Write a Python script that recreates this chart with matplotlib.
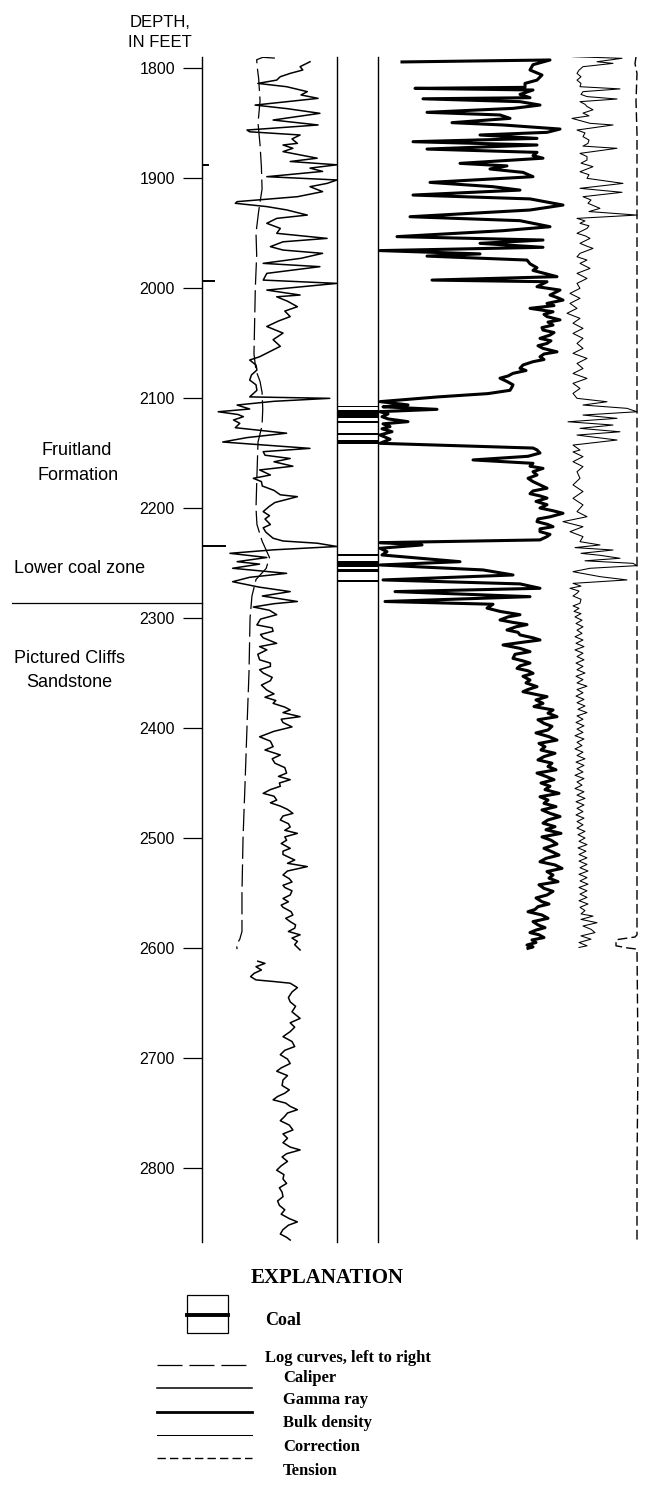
"""Well log: caliper, gamma ray, bulk density, correction, tension and coal beds,
Fruitland Formation / Pictured Cliffs Sandstone. Writes out.png.
"""
import matplotlib
matplotlib.use("Agg")
import matplotlib.pyplot as plt
from matplotlib.lines import Line2D
from matplotlib.patches import Rectangle
from matplotlib.transforms import blended_transform_factory

plt.rcParams["lines.scale_dashes"] = False

SANS = ["Liberation Sans", "DejaVu Sans"]
SERIF = ["Liberation Serif", "DejaVu Serif"]

# ---- data -------------------------------------------------------------
DEPTH_TICKS = [1800, 1900, 2000, 2100, 2200, 2300, 2400, 2500, 2600, 2700, 2800]
CONTACT_DEPTH = 2286  # Fruitland / Pictured Cliffs contact

# gamma ray, API (track 0-150), upper run
GR_DEPTH_1 = [1794.3, 1798.8, 1801.8, 1804.9, 1807.9, 1811.0, 1814.0, 1817.0, 1821.5, 1824.5,
              1827.6, 1833.7, 1837.0, 1841.2, 1847.3, 1851.8, 1856.4, 1858.0, 1860.9, 1864.5,
              1868.5, 1870.0, 1873.0, 1876.0, 1879.0, 1882.0, 1885.0, 1888.0, 1891.0, 1894.0,
              1898.8, 1901.8, 1904.9, 1907.9, 1912.4, 1917.0, 1921.5, 1923.0, 1926.0, 1929.0,
              1933.7, 1936.7, 1941.2, 1945.8, 1950.3, 1954.9, 1958.0, 1962.4, 1965.5, 1968.5,
              1973.0, 1977.6, 1980.6, 1986.7, 1992.8, 1995.8, 2001.9, 2006.4, 2008.0, 2012.0,
              2017.0, 2021.0, 2026.0, 2030.0, 2035.0, 2041.0, 2047.0, 2053.0, 2058.0, 2062.5,
              2065.5, 2070.0, 2074.6, 2079.0, 2083.7, 2088.0, 2093.0, 2099.0, 2100.3, 2103.0,
              2106.4, 2110.0, 2112.5, 2115.0, 2117.0, 2120.0, 2123.0, 2127.0, 2132.0, 2136.0,
              2140.0, 2145.8, 2148.8, 2152.0, 2155.0, 2158.0, 2162.0, 2165.4, 2170.0, 2173.0,
              2176.0, 2180.0, 2184.0, 2188.0, 2189.7, 2195.0, 2199.0, 2203.3, 2207.0, 2210.0,
              2215.0, 2218.0, 2222.0, 2227.5, 2230.0, 2232.0, 2235.0, 2238.0, 2241.2, 2245.0,
              2248.8, 2251.0, 2254.8, 2259.4, 2263.0, 2267.0, 2272.0, 2276.0, 2280.0, 2285.0,
              2287.0, 2290.0, 2293.0, 2297.0, 2301.0, 2306.3, 2309.0, 2312.0, 2315.0, 2318.0,
              2323.0, 2326.0, 2329.0, 2333.0, 2338.0, 2341.0, 2344.0, 2347.0, 2350.0, 2354.0,
              2357.0, 2361.0, 2365.5, 2369.0, 2372.0, 2375.0, 2377.6, 2381.0, 2383.6, 2386.0,
              2389.7, 2392.0, 2395.0, 2399.0, 2403.0, 2408.0, 2412.0, 2417.0, 2420.0, 2424.5,
              2428.0, 2432.0, 2436.0, 2441.0, 2444.0, 2447.0, 2450.0, 2453.0, 2456.0, 2459.4,
              2462.0, 2465.5, 2468.0, 2471.0, 2474.0, 2477.6, 2480.0, 2483.6, 2487.0, 2490.0,
              2493.0, 2495.8, 2499.0, 2502.0, 2505.0, 2509.4, 2512.0, 2515.0, 2520.0, 2523.0,
              2526.0, 2530.0, 2533.6, 2537.0, 2540.0, 2543.0, 2545.0, 2548.0, 2551.8, 2555.0,
              2558.0, 2561.0, 2563.0, 2567.0, 2570.0, 2573.0, 2576.0, 2579.0, 2582.0, 2585.0,
              2588.0, 2591.0, 2594.0, 2597.0, 2601.8]
GR_API_1 = [120, 109, 112, 98, 87, 83, 62, 94, 117, 110,
            129, 59, 95, 131, 79, 129, 50, 53, 109, 100,
            106, 90, 101, 90, 109, 128, 98, 150, 120, 134,
            72, 150, 139, 120, 134, 106, 39, 37, 72, 94,
            117, 83, 72, 87, 83, 139, 90, 76, 90, 134,
            110, 68, 131, 72, 68, 150, 72, 109, 83, 95,
            106, 92, 98, 85, 72, 90, 79, 87, 75, 64,
            53, 60, 61, 55, 53, 60, 61, 53, 142, 80,
            39, 53, 18, 40, 46, 35, 42, 37, 94, 50,
            23, 120, 68, 70, 98, 80, 101, 64, 76, 57,
            66, 67, 80, 87, 106, 81, 74, 68, 75, 70,
            76, 68, 71, 79, 90, 128, 150, 80, 31, 72,
            39, 64, 34, 94, 53, 34, 64, 98, 67, 106,
            80, 57, 75, 83, 65, 61, 78, 79, 65, 68,
            83, 64, 72, 62, 64, 76, 76, 64, 68, 78,
            76, 66, 72, 80, 70, 82, 79, 92, 98, 90,
            109, 88, 90, 100, 80, 64, 76, 79, 70, 87,
            78, 81, 92, 94, 85, 98, 86, 87, 76, 68,
            80, 83, 76, 87, 95, 101, 90, 87, 96, 98,
            92, 106, 92, 94, 88, 98, 90, 90, 103, 95,
            117, 95, 90, 97, 100, 90, 92, 100, 98, 90,
            96, 88, 90, 99, 101, 93, 98, 104, 103, 96,
            109, 100, 106, 103, 109]

# gamma ray, lower run
GR_DEPTH_2 = [2612, 2614, 2617, 2620, 2623, 2626, 2629, 2630.5, 2632, 2636,
              2640, 2645, 2649, 2653, 2658, 2664, 2668, 2672, 2676, 2680.6,
              2685, 2689.6, 2693, 2697, 2701, 2705, 2709, 2712, 2716, 2720,
              2725, 2729, 2732, 2735, 2738, 2741, 2744, 2747, 2750, 2753,
              2757, 2761, 2765.4, 2769, 2773, 2777, 2781, 2783.6, 2787, 2790,
              2794, 2798, 2802, 2806, 2810, 2814, 2818, 2822, 2826, 2830,
              2834, 2838, 2842, 2846, 2849, 2852, 2856, 2860, 2863, 2865.5]
GR_API_2 = [62, 70, 60, 66, 58, 54, 60, 80, 98, 106,
            100, 96, 98, 104, 100, 109, 98, 103, 98, 90,
            100, 103, 92, 87, 95, 98, 88, 83, 95, 90,
            89, 97, 92, 84, 79, 93, 98, 106, 95, 92,
            87, 97, 101, 90, 95, 90, 98, 109, 94, 89,
            95, 88, 83, 91, 90, 94, 86, 89, 90, 84,
            86, 92, 88, 97, 106, 96, 90, 87, 94, 98]

# gamma ray values past the track edge, wrapped back (API - 150)
GR_WRAP_DEPTH = [1888, 1994, 2234.5]
GR_WRAP_API = [7, 13, 25]

# caliper, inches
CAL_DEPTH = [1791, 1790.3, 1792.5, 1800, 1810, 1830, 1850, 1870, 1890, 1910,
             1930, 1950, 1970, 2000, 2030, 2060, 2075, 2085, 2095, 2110,
             2125, 2140, 2170, 2200, 2215, 2230, 2245, 2255, 2265, 2280,
             2300, 2350, 2400, 2450, 2500, 2550, 2585, 2592, 2597, 2601]
CAL_IN = [11.4, 10.5, 10.05, 10.1, 10.2, 10.3, 10.15, 10.3, 10.4, 10.45,
          10.2, 10.0, 10.05, 9.95, 9.9, 9.85, 10.0, 10.3, 10.45, 10.5,
          10.45, 10.15, 10.07, 10.0, 10.07, 10.45, 11.0, 10.75, 10.0, 9.7,
          9.56, 9.48, 9.33, 9.19, 9.04, 8.96, 8.96, 8.8, 8.55, 8.6]

# bulk density, g/cc
DEN_DEPTH = [1794.5, 1792.7, 1797.0, 1801.8, 1806.4, 1811.0, 1814.0, 1817.6, 1818.5, 1820.0,
             1824.0, 1827.0, 1828.0, 1830.6, 1833.7, 1836.7, 1840.3, 1842.7, 1845.8, 1849.7,
             1851.8, 1855.5, 1858.5, 1860.9, 1864.0, 1867.0, 1870.0, 1873.7, 1876.7, 1879.7,
             1882.0, 1886.7, 1889.0, 1891.8, 1894.9, 1898.8, 1904.0, 1907.9, 1911.0, 1915.5,
             1919.0, 1924.6, 1929.1, 1935.2, 1938.8, 1944.3, 1947.9, 1953.3, 1956.4, 1959.4,
             1963.0, 1966.0, 1969.0, 1971.0, 1974.6, 1978.0, 1981.6, 1984.0, 1989.7, 1992.8,
             1994.3, 1998.8, 2001.9, 2006.4, 2009.0, 2011.0, 2014.0, 2016.0, 2018.5, 2021.6,
             2024.0, 2026.0, 2029.0, 2031.0, 2033.7, 2036.0, 2038.2, 2040.5, 2042.8, 2045.8,
             2048.0, 2050.4, 2052.5, 2054.9, 2058.0, 2060.0, 2062.5, 2065.0, 2067.0, 2070.0,
             2073.0, 2075.0, 2077.6, 2080.0, 2082.0, 2085.0, 2088.0, 2090.0, 2093.0, 2096.0,
             2099.0, 2103.3, 2106.3, 2108.0, 2110.3, 2112.4, 2114.5, 2117.0, 2119.0, 2121.5,
             2123.5, 2126.0, 2128.0, 2130.6, 2133.6, 2137.5, 2141.2, 2145.5, 2147.2, 2150.0,
             2153.0, 2156.3, 2159.4, 2162.0, 2164.0, 2167.0, 2170.0, 2173.0, 2176.0, 2179.0,
             2182.0, 2184.5, 2187.0, 2189.0, 2191.0, 2194.0, 2197.0, 2200.0, 2202.5, 2204.8,
             2208.0, 2210.0, 2212.4, 2215.0, 2217.0, 2219.0, 2221.5, 2224.0, 2226.0, 2229.0,
             2231.5, 2233.6, 2236.6, 2239.7, 2242.7, 2248.8, 2251.8, 2256.3, 2260.9, 2265.4,
             2269.0, 2273.0, 2276.0, 2280.6, 2285.0, 2287.5, 2291.0, 2294.0, 2297.0, 2299.0,
             2301.8, 2304.0, 2306.0, 2308.0, 2310.9, 2313.0, 2315.4, 2318.0, 2320.0, 2322.0,
             2324.5, 2327.6, 2330.6, 2333.0, 2336.7, 2339.0, 2341.0, 2343.5, 2345.8, 2348.0,
             2350.3, 2353.0, 2356.4, 2359.0, 2362.4, 2365.0, 2367.0, 2369.5, 2371.5, 2374.5,
             2377.6, 2380.5, 2383.6, 2386.5, 2389.7, 2392.5, 2395.8, 2398.5, 2401.8, 2404.5,
             2407.9, 2411.0, 2414.0, 2417.0, 2420.0, 2423.0, 2426.0, 2429.0, 2432.0, 2435.0,
             2438.0, 2441.0, 2444.0, 2447.0, 2450.0, 2453.0, 2456.0, 2459.4, 2462.5, 2465.5,
             2468.5, 2471.5, 2474.5, 2477.6, 2480.5, 2483.6, 2486.5, 2489.7, 2492.5, 2495.8,
             2499.0, 2502.0, 2505.5, 2509.4, 2512.5, 2515.5, 2518.5, 2521.6, 2524.5, 2527.6,
             2530.5, 2533.7, 2536.5, 2539.7, 2542.5, 2545.8, 2548.5, 2551.8, 2554.5, 2557.9,
             2560.0, 2562.4, 2565.0, 2567.0, 2570.0, 2573.0, 2576.0, 2579.0, 2581.5, 2583.7,
             2586.0, 2588.0, 2590.5, 2592.7, 2595.0, 2597.3, 2599.0, 2600.3]
DEN_GCC = [1.24, 2.72, 2.55, 2.52, 2.64, 2.59, 2.47, 2.47, 1.37, 2.55,
           2.42, 2.52, 1.45, 2.42, 2.62, 2.35, 1.49, 2.22, 2.32, 1.74,
           2.25, 2.82, 2.69, 2.02, 2.59, 1.35, 2.59, 1.49, 2.59, 2.55,
           2.65, 1.82, 2.29, 2.12, 2.45, 2.55, 1.52, 2.15, 2.42, 1.35,
           2.52, 2.85, 2.52, 1.32, 2.42, 2.72, 2.25, 1.19, 2.65, 2.02,
           2.65, 1.02, 2.02, 1.49, 2.49, 2.52, 2.59, 2.55, 2.79, 1.54,
           2.69, 2.59, 2.82, 2.72, 2.80, 2.85, 2.69, 2.76, 2.52, 2.75,
           2.66, 2.69, 2.82, 2.70, 2.75, 2.64, 2.65, 2.76, 2.72, 2.62,
           2.73, 2.69, 2.60, 2.65, 2.79, 2.66, 2.62, 2.66, 2.55, 2.45,
           2.42, 2.48, 2.35, 2.30, 2.22, 2.29, 2.35, 2.34, 2.32, 2.10,
           1.60, 1.02, 1.30, 1.05, 1.59, 1.02, 1.10, 1.04, 1.10, 1.30,
           1.05, 1.12, 1.04, 1.14, 1.02, 1.12, 1.02, 2.55, 2.59, 2.62,
           2.50, 1.95, 2.55, 2.52, 2.65, 2.55, 2.59, 2.50, 2.55, 2.62,
           2.69, 2.55, 2.52, 2.62, 2.69, 2.58, 2.69, 2.62, 2.75, 2.85,
           2.72, 2.60, 2.59, 2.70, 2.75, 2.62, 2.62, 2.72, 2.69, 2.62,
           1.02, 1.44, 1.02, 1.09, 1.04, 1.82, 1.02, 2.05, 2.35, 1.05,
           2.42, 2.62, 1.17, 2.52, 1.07, 2.15, 2.09, 2.22, 2.42, 2.30,
           2.22, 2.35, 2.49, 2.38, 2.29, 2.40, 2.42, 2.55, 2.62, 2.45,
           2.25, 2.42, 2.52, 2.37, 2.35, 2.45, 2.52, 2.42, 2.39, 2.50,
           2.55, 2.45, 2.52, 2.48, 2.59, 2.50, 2.45, 2.58, 2.69, 2.58,
           2.65, 2.56, 2.75, 2.70, 2.79, 2.60, 2.66, 2.74, 2.70, 2.58,
           2.71, 2.79, 2.61, 2.67, 2.63, 2.77, 2.66, 2.60, 2.74, 2.70,
           2.78, 2.59, 2.68, 2.76, 2.63, 2.72, 2.67, 2.81, 2.62, 2.70,
           2.66, 2.78, 2.64, 2.72, 2.82, 2.70, 2.65, 2.77, 2.68, 2.83,
           2.64, 2.73, 2.79, 2.66, 2.74, 2.81, 2.68, 2.62, 2.77, 2.84,
           2.69, 2.75, 2.71, 2.80, 2.61, 2.66, 2.75, 2.69, 2.58, 2.64,
           2.71, 2.60, 2.57, 2.50, 2.64, 2.70, 2.55, 2.60, 2.67, 2.58,
           2.52, 2.61, 2.66, 2.54, 2.58, 2.49, 2.55, 2.50]

# density correction, g/cc
CORR_DEPTH = [1789.7, 1791.2, 1794.3, 1795.8, 1798.8, 1802.0, 1804.9, 1808.0, 1811.0, 1814.0,
              1817.0, 1819.0, 1821.5, 1824.0, 1826.0, 1828.2, 1830.6, 1833.0, 1835.0, 1838.0,
              1841.0, 1843.5, 1845.8, 1850.3, 1851.8, 1856.4, 1859.0, 1862.4, 1865.5, 1868.5,
              1871.0, 1873.0, 1877.6, 1880.5, 1883.7, 1886.5, 1889.7, 1894.3, 1897.0, 1900.3,
              1904.9, 1909.4, 1913.0, 1917.0, 1920.0, 1923.0, 1927.6, 1930.5, 1933.7, 1936.7,
              1939.0, 1941.2, 1943.5, 1945.8, 1950.3, 1952.5, 1954.9, 1959.4, 1962.0, 1964.0,
              1968.5, 1971.6, 1974.6, 1977.6, 1982.2, 1986.7, 1991.3, 1995.8, 2000.3, 2004.9,
              2009.4, 2014.0, 2018.5, 2023.0, 2027.6, 2032.0, 2036.7, 2041.3, 2045.8, 2050.4,
              2054.9, 2059.4, 2064.0, 2068.6, 2073.2, 2077.7, 2082.2, 2086.7, 2091.3, 2095.8,
              2100.3, 2103.4, 2106.4, 2109.4, 2112.5, 2115.5, 2118.5, 2121.6, 2124.6, 2127.6,
              2130.7, 2133.7, 2138.2, 2142.8, 2147.3, 2149.0, 2153.3, 2157.9, 2162.4, 2167.0,
              2173.0, 2179.0, 2185.0, 2191.2, 2197.2, 2203.3, 2207.9, 2212.4, 2217.0, 2221.5,
              2226.0, 2230.6, 2233.6, 2236.0, 2238.2, 2241.2, 2243.0, 2245.7, 2248.0, 2250.3,
              2252.4, 2254.8, 2257.9, 2262.4, 2265.4, 2268.5, 2271.0, 2273.0, 2275.5, 2277.5,
              2280.0, 2283.0, 2286.6, 2289.0, 2291.2, 2294.0, 2296.0, 2299.0, 2302.0, 2305.0,
              2308.0, 2311.0, 2314.0, 2317.0, 2320.0, 2323.0, 2326.0, 2329.0, 2332.0, 2335.0,
              2338.0, 2341.0, 2344.0, 2347.0, 2350.0, 2353.0, 2356.0, 2359.0, 2362.0, 2365.0,
              2368.0, 2371.0, 2374.0, 2377.0, 2380.0, 2383.0, 2386.0, 2389.0, 2392.0, 2395.0,
              2398.0, 2401.0, 2404.0, 2407.0, 2410.0, 2413.0, 2416.0, 2419.0, 2422.0, 2425.0,
              2428.0, 2431.0, 2434.0, 2437.0, 2440.0, 2443.0, 2446.0, 2449.0, 2452.0, 2455.0,
              2458.0, 2461.0, 2464.0, 2467.0, 2470.0, 2473.0, 2476.0, 2479.0, 2482.0, 2485.0,
              2488.0, 2491.0, 2494.0, 2497.0, 2500.0, 2503.0, 2506.0, 2509.0, 2512.0, 2515.0,
              2518.0, 2521.0, 2524.0, 2527.0, 2530.0, 2533.0, 2536.0, 2539.0, 2542.0, 2545.0,
              2548.0, 2551.0, 2554.0, 2557.0, 2560.0, 2563.0, 2566.0, 2569.0, 2571.0, 2574.0,
              2577.0, 2580.0, 2583.0, 2586.0, 2589.0, 2592.0, 2595.0, 2598.0, 2599.5]
CORR_GCC = [-0.01, 0.235, 0.11, 0.19, 0.04, 0.02, 0.01, 0.03, 0.01, 0.03,
            0.025, 0.225, 0.04, 0.03, 0.06, 0.21, 0.025, 0.05, 0.06, 0.09,
            0.04, 0.07, -0.015, 0.075, 0.19, 0.01, 0.05, 0.04, 0.07, 0.065,
            0.04, 0.21, 0.025, 0.06, 0.06, 0.03, 0.09, 0.025, 0.07, 0.06,
            0.24, 0.025, 0.235, 0.04, 0.08, 0.065, 0.125, 0.07, 0.31, 0.01,
            0.05, 0.025, 0.07, 0.06, 0.01, 0.05, 0.075, 0.025, 0.06, 0.09,
            0.025, 0.01, 0.06, 0.025, 0.075, 0.01, 0.06, 0.01, 0.025, -0.025,
            0.025, -0.025, 0.01, -0.04, 0.025, -0.01, 0.04, -0.01, 0.04, 0.01,
            0.04, -0.01, 0.06, 0.01, 0.04, -0.01, 0.06, -0.01, 0.025, -0.01,
            0.01, 0.16, 0.04, 0.26, 0.31, 0.04, 0.21, -0.035, 0.19, 0.025,
            0.225, 0.01, 0.21, -0.01, 0.025, -0.01, 0.04, -0.01, 0.04, 0.01,
            0.025, -0.01, 0.04, -0.01, 0.04, 0.01, 0.06, -0.06, 0.04, -0.025,
            0.04, 0.025, 0.125, 0.0, 0.19, 0.03, 0.125, 0.225, 0.05, 0.29,
            0.31, 0.075, -0.01, 0.125, 0.26, -0.01, 0.03, -0.025, 0.02, 0.01,
            -0.01, 0.03, 0.025, -0.01, 0.02, -0.005, 0.03, 0.0, 0.035, 0.005,
            0.04, 0.01, 0.035, 0.0, 0.04, 0.005, 0.045, 0.0, 0.04, 0.01,
            0.045, 0.005, 0.04, 0.01, 0.05, 0.005, 0.04, 0.01, 0.06, 0.01,
            0.04, 0.005, 0.045, 0.01, 0.05, 0.015, 0.06, 0.01, 0.04, 0.005,
            0.045, 0.01, 0.04, 0.0, 0.045, 0.01, 0.035, 0.0, 0.04, 0.01,
            0.05, 0.005, 0.045, 0.01, 0.04, 0.0, 0.045, 0.01, 0.035, 0.0,
            0.045, 0.01, 0.05, 0.005, 0.045, 0.01, 0.04, 0.005, 0.045, 0.01,
            0.04, 0.01, 0.05, 0.015, 0.05, 0.02, 0.06, 0.015, 0.055, 0.02,
            0.06, 0.02, 0.06, 0.025, 0.065, 0.02, 0.06, 0.025, 0.065, 0.02,
            0.06, 0.025, 0.06, 0.02, 0.065, 0.025, 0.05, 0.03, 0.09, 0.03,
            0.11, 0.04, 0.08, 0.1, 0.03, 0.08, 0.02, 0.06, 0.02]

# cable tension, klb
TEN_DEPTH = [1790, 1796, 1805, 1830, 1860, 1900, 1935, 1980, 2050, 2112,
             2180, 2252, 2320, 2420, 2520, 2588, 2590, 2592.5, 2598, 2600,
             2601, 2700, 2800, 2867]
TEN_KLB = [12.9, 12.85, 12.95, 12.9, 12.95, 12.95, 12.95, 12.95, 12.95, 12.95,
           12.95, 12.95, 12.95, 12.95, 12.95, 12.95, 12.85, 11.9, 11.9, 12.5,
           12.95, 13.0, 12.95, 12.95]

# coal beds, top and base depth (ft)
COAL_TOP = [2107.0, 2110.8, 2121.0, 2132.0, 2138.2, 2242.2, 2248.6, 2255.2, 2265.4]
COAL_BASE = [2108.3, 2118.0, 2122.5, 2133.5, 2142.2, 2243.6, 2253.2, 2258.2, 2267.6]

LEGEND_CURVES = ["Caliper", "Gamma ray", "Bulk density", "Correction", "Tension"]

# ---- layout (pixels of the 647 x 1485 output) ---------------------------
W, H = 647, 1485
TOP_PX, BOT_PX = 57, 1242
D_TOP = 1800 + (TOP_PX - 68) / 1.1
D_BOT = 1800 + (BOT_PX - 68) / 1.1


def track(x0, x1):
    return [x0 / W, 1 - BOT_PX / H, (x1 - x0) / W, (BOT_PX - TOP_PX) / H]


def fx(x):
    return x / W


def fy(y):
    return 1 - y / H


fig = plt.figure(figsize=(W / 100, H / 100), dpi=100)

ax_gr = fig.add_axes(track(202, 337))
ax_cal = ax_gr.twiny()
ax_coal = fig.add_axes(track(337, 378), sharey=ax_gr)
ax_den = fig.add_axes(track(378, 640), sharey=ax_gr)
ax_corr = ax_den.twiny()
ax_ten = ax_den.twiny()

ax_gr.set_xlim(0, 150)
ax_cal.set_xlim(6, 16)
ax_coal.set_xlim(0, 1)
ax_den.set_xlim(1.0, 3.62)
ax_corr.set_xlim((378 - 575) / 200, (640 - 575) / 200)
ax_ten.set_xlim(0, (640 - 378) * 0.05)
ax_gr.set_ylim(D_BOT, D_TOP)

for a in (ax_gr, ax_cal, ax_coal, ax_den, ax_corr, ax_ten):
    a.set_xticks([])
    a.tick_params(axis="x", top=False, bottom=False, labeltop=False, labelbottom=False)
    for s in a.spines.values():
        s.set_visible(False)
    a.patch.set_visible(False)

ax_gr.spines["left"].set_visible(True)
ax_gr.spines["right"].set_visible(True)
ax_coal.spines["right"].set_visible(True)
for a, side in ((ax_gr, "left"), (ax_gr, "right"), (ax_coal, "right")):
    a.spines[side].set_linewidth(1.0)

ax_gr.set_yticks(DEPTH_TICKS)
ax_gr.set_yticklabels([str(d) for d in DEPTH_TICKS])
ax_gr.tick_params(axis="y", left=True, right=False, direction="out",
                  length=13.7, width=0.9, pad=5.8, labelsize=11.5)
for lbl in ax_gr.get_yticklabels():
    lbl.set_fontfamily(SANS)
for a in (ax_coal, ax_den):
    a.tick_params(axis="y", left=False, right=False, labelleft=False)

# curves
ax_cal.plot(CAL_IN, CAL_DEPTH, color="black", lw=0.9, ls=(0, (16, 4)))
ax_gr.plot(GR_API_1, GR_DEPTH_1, color="black", lw=1.1)
ax_gr.plot(GR_API_2, GR_DEPTH_2, color="black", lw=1.1)
for d, v in zip(GR_WRAP_DEPTH, GR_WRAP_API):
    ax_gr.plot([0, v], [d, d], color="black", lw=1.4)

mid = [(t + b) / 2 for t, b in zip(COAL_TOP, COAL_BASE)]
thick = [b - t for t, b in zip(COAL_TOP, COAL_BASE)]
ax_coal.barh(mid, [1] * len(mid), height=thick, left=0, color="black", lw=0)

ax_den.plot(DEN_GCC, DEN_DEPTH, color="black", lw=2.2)
ax_corr.plot(CORR_GCC, CORR_DEPTH, color="black", lw=0.75)
ax_ten.plot(TEN_KLB, TEN_DEPTH, color="black", lw=1.0, ls=(0, (7, 3)))

# header and unit names
fig.text(fx(160), fy(27), "DEPTH,", ha="center", va="baseline", fontsize=12, family=SANS)
fig.text(fx(160), fy(47), "IN FEET", ha="center", va="baseline", fontsize=12, family=SANS)

for txt, x, y in (("Fruitland", 77, 455), ("Formation", 78, 480),
                  ("Lower coal zone", 80, 573), ("Pictured Cliffs", 70, 663),
                  ("Sandstone", 69, 687)):
    fig.text(fx(x), fy(y), txt, ha="center", va="baseline", fontsize=13, family=SANS)

contact = blended_transform_factory(fig.transFigure, ax_gr.transData)
ax_gr.plot([fx(12), fx(202)], [CONTACT_DEPTH, CONTACT_DEPTH], color="black", lw=0.9,
           transform=contact, clip_on=False)

# explanation
fig.text(fx(327), fy(1283), "EXPLANATION", ha="center", va="baseline",
         fontsize=15, fontweight="bold", family=SERIF)
fig.add_artist(Rectangle((fx(187), fy(1333)), (228 - 187) / W, (1333 - 1295) / H,
                         transform=fig.transFigure, fill=False, ec="black", lw=0.9))
fig.add_artist(Line2D([fx(187), fx(228)], [fy(1315), fy(1315)], color="black", lw=2.8))
fig.text(fx(265), fy(1325), "Coal", ha="left", va="baseline",
         fontsize=13, fontweight="bold", family=SERIF)
fig.text(fx(265), fy(1362), "Log curves, left to right", ha="left", va="baseline",
         fontsize=12, fontweight="bold", family=SERIF)

styles = [dict(lw=0.9, ls=(0, (18, 5))), dict(lw=1.1, ls="-"), dict(lw=2.0, ls="-"),
          dict(lw=0.75, ls="-"), dict(lw=1.0, ls=(0, (6, 3)))]
line_y = [1365, 1388, 1412, 1435, 1458]
text_y = [1382, 1404, 1427, 1451, 1475]
for name, st, ly, ty in zip(LEGEND_CURVES, styles, line_y, text_y):
    fig.add_artist(Line2D([fx(157), fx(252)], [fy(ly), fy(ly)], color="black", **st))
    fig.text(fx(283), fy(ty), name, ha="left", va="baseline",
             fontsize=12, fontweight="bold", family=SERIF)

fig.savefig("out.png", dpi=100)
